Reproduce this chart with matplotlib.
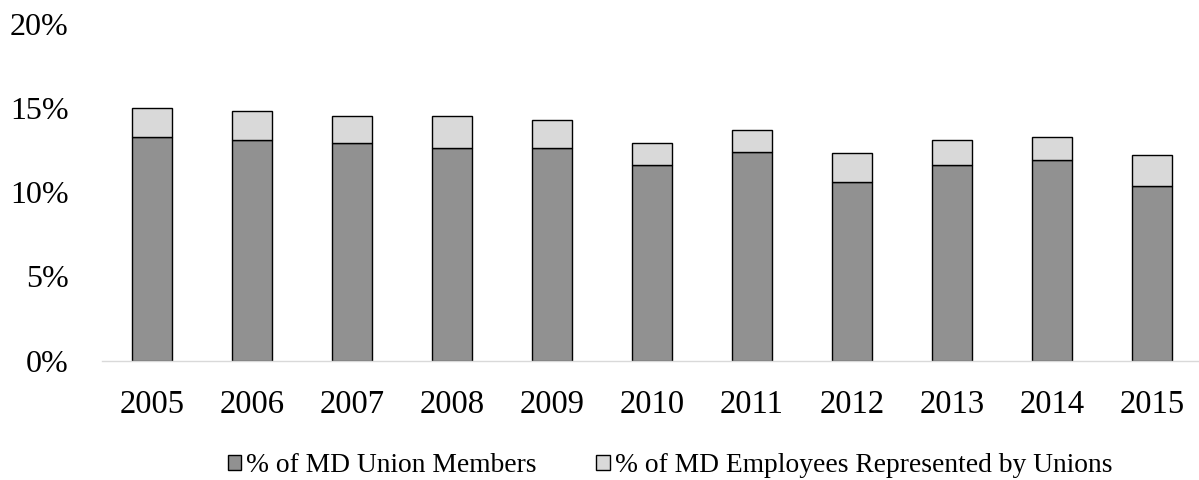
import matplotlib.pyplot as plt
from matplotlib.ticker import FuncFormatter

plt.rcParams['font.family'] = ['Liberation Serif', 'DejaVu Serif']

# Data (percent)
years = ['2005', '2006', '2007', '2008', '2009', '2010', '2011', '2012', '2013', '2014', '2015']
union_members = [13.3, 13.1, 12.9, 12.6, 12.6, 11.6, 12.4, 10.6, 11.6, 11.9, 10.4]
represented = [15.0, 14.8, 14.5, 14.5, 14.3, 12.9, 13.7, 12.3, 13.1, 13.3, 12.2]
yticks = [0, 5, 10, 15, 20]

# top segment = represented but not counted as members
extra = [r - m for r, m in zip(represented, union_members)]

fig = plt.figure(figsize=(11.99, 4.8), dpi=100)
ax = fig.add_axes([0.085, 0.2485, 0.9175, 0.702])

x = range(len(years))
ax.bar(x, union_members, width=0.4, color='#919191', edgecolor='black',
       linewidth=1.0, label='% of MD Union Members')
ax.bar(x, extra, width=0.4, bottom=union_members, color='#D9D9D9', edgecolor='black',
       linewidth=1.0, label='% of MD Employees Represented by Unions')

ax.set_xlim(-0.5, len(years) - 0.5)
ax.set_ylim(0, 20)
ax.set_xticks(list(x))
ax.set_xticklabels(years)
ax.set_yticks(yticks)
ax.yaxis.set_major_formatter(FuncFormatter(lambda v, p: f'{v:.0f}%'))

for s in ['top', 'right', 'left']:
    ax.spines[s].set_visible(False)
ax.spines['bottom'].set_color('#D9D9D9')
ax.spines['bottom'].set_linewidth(1.0)

ax.tick_params(axis='x', length=0, pad=21, labelsize=23.5)
ax.tick_params(axis='y', length=0, pad=24, labelsize=23)

fig.legend(loc='center', bbox_to_anchor=(0.5588, 0.030), ncol=2, frameon=False,
           fontsize=19.8, handlelength=0.5, handleheight=0.5, handletextpad=0.18,
           columnspacing=2.15)

fig.savefig('out.png', dpi=100)
